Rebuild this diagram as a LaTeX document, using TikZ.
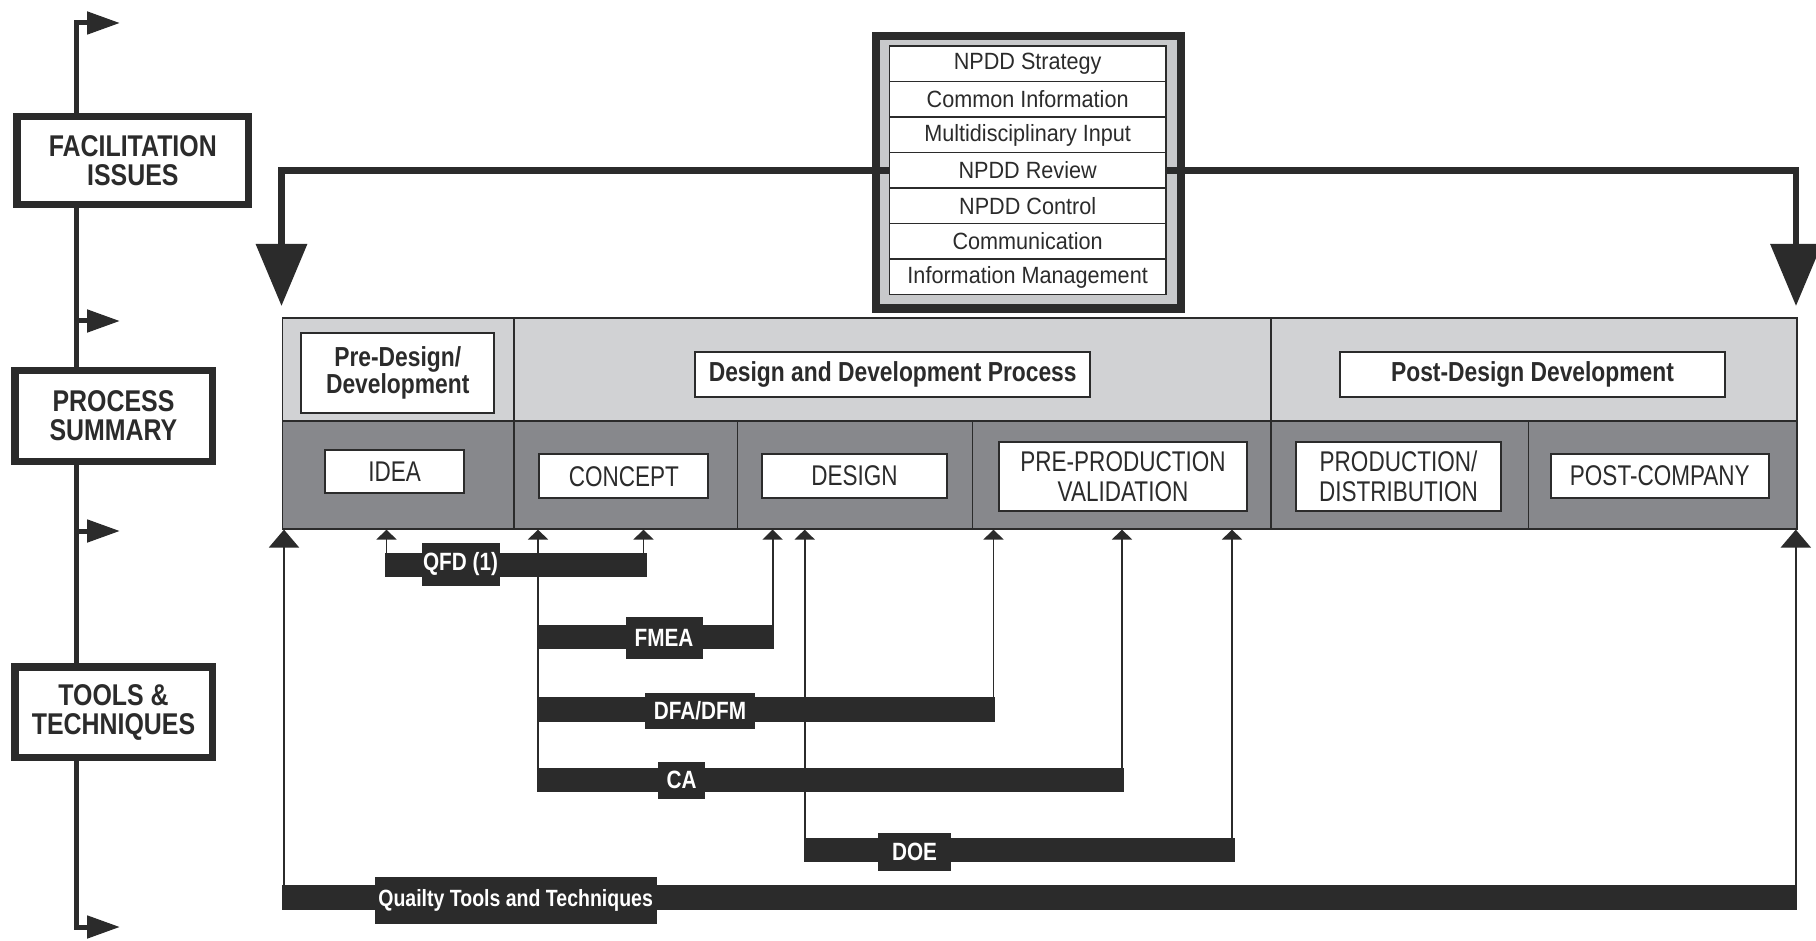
\documentclass[tikz,border=0pt]{standalone}
\usepackage{fontspec}
\setmainfont{Liberation Sans}
\newfontfamily\labfont[FakeStretch=0.83]{Liberation Sans}
\newfontfamily\capfont[FakeStretch=0.79]{Liberation Sans}
\newfontfamily\rowfont[FakeStretch=0.92]{Liberation Sans}
\usetikzlibrary{arrows.meta}

\definecolor{ink}{HTML}{2B2B2B}
\definecolor{bandlight}{HTML}{D1D2D4}
\definecolor{banddark}{HTML}{87888C}
\definecolor{framegray}{HTML}{C8C9CB}

\begin{document}
\begin{tikzpicture}[x=1pt,y=-1pt,line join=miter]
\tikzset{
  sidebox/.style={draw=ink, line width=7.5pt, fill=white, inner sep=0pt, align=center, text=ink,
    font=\labfont\bfseries\fontsize{30}{29}\selectfont},
  spine/.style={draw=ink, line width=5pt},
  headtip/.style={-{Triangle[length=33pt,width=22pt]}},
  cell/.style={draw=ink, line width=1.6pt, inner sep=0pt, anchor=north west, minimum height=#1},
  topcell/.style={cell=103pt, fill=bandlight},
  lowcell/.style={cell=108pt, fill=banddark},
  phasebox/.style={draw=ink, line width=2pt, fill=white, inner sep=0pt, align=center, text=ink},
  boldtxt/.style={font=\labfont\bfseries\fontsize{27.5}{27}\selectfont},
  captxt/.style={font=\capfont\fontsize{28.5}{30}\selectfont},
  npddrow/.style={draw=ink, line width=1.5pt, fill=white, minimum width=276.7pt, minimum height=35.5pt,
    inner sep=0pt, text=ink, font=\rowfont\fontsize{23.5}{24}\selectfont},
  feed/.style={draw=ink, line width=6.5pt, -{Triangle[length=62pt,width=50pt]}},
  bar/.style={fill=ink, inner sep=0pt, minimum height=24pt, anchor=west},
  barlabel/.style={fill=ink, inner sep=0pt, text=white, font=\labfont\bfseries\fontsize{25}{25}\selectfont},
  link/.style={draw=ink, line width=1.8pt, -{Triangle[length=10pt,width=20pt]}},
  biglink/.style={draw=ink, line width=2.2pt, -{Triangle[length=18pt,width=30pt]}},
}
\useasboundingbox (0,0) rectangle (1816,941);
\fill[white] (0,0) rectangle (1816,941);

% left spine with its pointers
\coordinate (sptop) at (76,23);
\coordinate (spbot) at (76,927);
\draw[spine, {Triangle[length=33pt,width=22pt]}-{Triangle[length=33pt,width=22pt]}]
  (120,23) -- (sptop) -- (spbot) -- (120,927);
\coordinate (spa) at (76,321);
\coordinate (spb) at (76,531);
\draw[spine, headtip] (spa) -- ++(44,0);
\draw[spine, headtip] (spb) -- ++(44,0);

% side headings
\node[sidebox, minimum width=231.5pt, minimum height=88pt] (facil) at (132.8,160.5) {FACILITATION\\ISSUES};
\node[sidebox, minimum width=197.5pt, minimum height=90.5pt] (procsum) at (113.5,416) {PROCESS\\SUMMARY};
\node[sidebox, minimum width=197.5pt, minimum height=90.5pt] (tools) at (113.5,712) {TOOLS \&\\TECHNIQUES};

% facilitation issue list
\node[draw=ink, line width=8.3pt, fill=framegray, minimum width=305pt, minimum height=272.7pt, inner sep=0pt]
  (npdd) at (1028.35,172.2) {};
\node[npddrow] (strategy) at (1027.65,63.95) {NPDD Strategy};
\node[npddrow] (common)   at (1027.65,99.45) {Common Information};
\node[npddrow] (multi)    at (1027.65,134.95) {Multidisciplinary Input};
\node[npddrow] (review)   at (1027.65,170.45) {NPDD Review};
\node[npddrow] (control)  at (1027.65,205.95) {NPDD Control};
\node[npddrow] (commun)   at (1027.65,241.45) {Communication};
\node[npddrow] (infoman)  at (1027.65,276.95) {Information Management};

% process summary table
\node[topcell, minimum width=231.5pt] (pre)  at (281.5,317) {};
\node[topcell, minimum width=757pt]   (ddp)  at (513,317) {};
\node[topcell, minimum width=526pt]   (post) at (1270,317) {};
\node[lowcell, minimum width=231.5pt] (c1) at (281.5,420) {};
\node[lowcell, minimum width=223.5pt] (c2) at (513,420) {};
\node[lowcell, minimum width=235.1pt] (c3) at (736.5,420) {};
\node[lowcell, minimum width=298.4pt] (c4) at (971.6,420) {};
\node[lowcell, minimum width=257.5pt] (c5) at (1270,420) {};
\node[lowcell, minimum width=268.5pt] (c6) at (1527.5,420) {};

\node[phasebox, boldtxt, minimum width=193pt, minimum height=80.6pt] (preB) at (397.7,373) {Pre-Design/\\Development};
\node[phasebox, boldtxt, minimum width=395.5pt, minimum height=45pt] (ddpB) at (892.7,374.5) {Design and Development Process};
\node[phasebox, boldtxt, minimum width=385pt, minimum height=45pt] (postB) at (1532.5,374.5) {Post-Design Development};
\node[phasebox, captxt, minimum width=139pt, minimum height=43.3pt] (idea) at (394.7,471.7) {IDEA};
\node[phasebox, captxt, minimum width=169pt, minimum height=44pt] (concept) at (623.8,476.3) {CONCEPT};
\node[phasebox, captxt, minimum width=185.4pt, minimum height=44pt] (design) at (854.5,476) {DESIGN};
\node[phasebox, captxt, minimum width=247.4pt, minimum height=69.3pt] (ppv) at (1123,476.3) {PRE-PRODUCTION\\VALIDATION};
\node[phasebox, captxt, minimum width=205pt, minimum height=69pt] (prod) at (1398.5,476.5) {PRODUCTION/\\DISTRIBUTION};
\node[phasebox, captxt, minimum width=217.5pt, minimum height=44pt] (postc) at (1659.8,476) {POST-COMPANY};

% feeds from the issue list down to the table
\coordinate (lefttip) at (281.5,306);
\coordinate (righttip) at (1796,306);
\draw[feed] (review.west) -| (lefttip);
\draw[feed] (review.east) -| (righttip);

% tool bars (positions only, drawn after the links)
\path node[bar, minimum width=261.5pt] (qfdbar) at (385,565) {}
      node[bar, minimum width=237pt]   (fmeabar) at (537,636.7) {}
      node[bar, minimum width=457.5pt] (dfabar) at (537,709.5) {}
      node[bar, minimum width=587pt]   (cabar) at (537,780) {}
      node[bar, minimum width=431pt]   (doebar) at (803.5,849.7) {}
      node[bar, minimum width=1515.5pt] (qualbar) at (281.5,897.5) {};

% links from tools to process stages
\draw[link] (386.5,0 |- qfdbar.north) -- (386.5,0 |- c1.south);
\draw[link] (643.5,0 |- qfdbar.north) -- (643.5,0 |- c2.south);
\draw[link] (538,0 |- cabar.center) -- (538,0 |- c2.south);
\draw[link] (772.6,0 |- fmeabar.north) -- (772.6,0 |- c3.south);
\draw[link] (804.7,0 |- doebar.center) -- (804.7,0 |- c3.south);
\draw[link] (993.5,0 |- dfabar.north) -- (993.5,0 |- c4.south);
\draw[link] (1122,0 |- cabar.north) -- (1122,0 |- c4.south);
\draw[link] (1232,0 |- doebar.north) -- (1232,0 |- c4.south);
\draw[biglink] (284,0 |- qualbar.center) -- (284,0 |- c1.south);
\draw[biglink] (1795.8,0 |- qualbar.center) -- (1795.8,0 |- c6.south);

% bars on top of the links
\fill[ink] (qfdbar.south west) rectangle (qfdbar.north east);
\fill[ink] (fmeabar.south west) rectangle (fmeabar.north east);
\fill[ink] (dfabar.south west) rectangle (dfabar.north east);
\fill[ink] (cabar.south west) rectangle (cabar.north east);
\fill[ink] (doebar.south west) rectangle (doebar.north east);
\fill[ink] (qualbar.south west) rectangle (qualbar.north east);

% tool labels
\node[barlabel, minimum width=78pt, minimum height=43pt] (qfd) at (460.5,564.3) {QFD (1)};
\node[barlabel, minimum width=77pt, minimum height=42.6pt] (fmea) at (664,638) {FMEA};
\node[barlabel, minimum width=110pt, minimum height=36.6pt] (dfa) at (700,711) {DFA/DFM};
\node[barlabel, minimum width=47.4pt, minimum height=37pt] (ca) at (681.5,780.2) {CA};
\node[barlabel, minimum width=73pt, minimum height=37.4pt] (doe) at (914.5,852) {DOE};
\node[barlabel, minimum width=282pt, minimum height=47pt, font=\labfont\bfseries\fontsize{23.5}{24}\selectfont]
  (qual) at (515.6,900.8) {Quailty Tools and Techniques};
\end{tikzpicture}
\end{document}
